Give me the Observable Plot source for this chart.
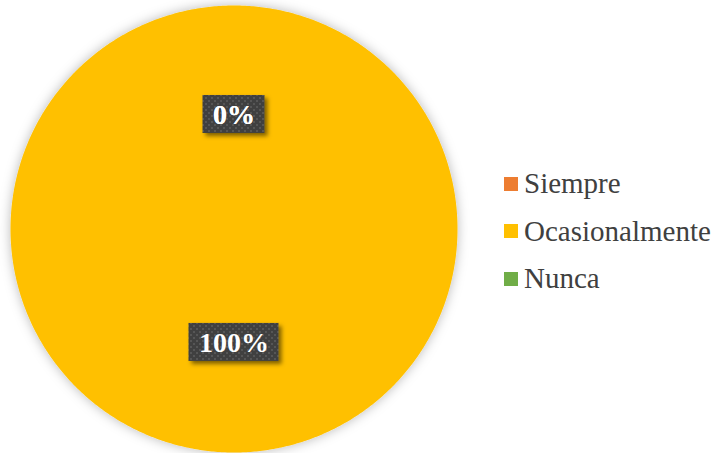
<!DOCTYPE html>
<html>
<head>
<meta charset="utf-8">
<script src="https://cdn.jsdelivr.net/npm/d3@7"></script>
<script src="https://cdn.jsdelivr.net/npm/@observablehq/plot@0.6"></script>
<style>
  html, body { margin: 0; padding: 0; background: #fff; }
  #wrap { position: relative; width: 719px; height: 453px; }
  #legend { position: absolute; left: 504px; top: 160px; }
  .lg-swatches { margin: 0 !important; min-height: 0 !important; }
  .lg-swatch { height: 47.5px !important; margin: 0 !important; padding: 0 !important; display: flex !important; align-items: center !important; }
  .lg-swatch svg { margin-right: 6px !important; }
</style>
</head>
<body>
<div id="wrap"><div id="chart"></div><div id="legend"></div></div>
<script>
const categories = ["Siempre", "Ocasionalmente", "Nunca"];
const values = [0, 100, 0];
const labels = ["0%", "100%", "0%"];
const colors = ["#ED7D31", "#FFC000", "#70AD47"];

// pie geometry from the values
const arcs = d3.pie().sort(null)(values);
const slicePts = [];
arcs.forEach((a, i) => {
  const steps = Math.max(2, Math.ceil((a.endAngle - a.startAngle) / (2 * Math.PI) * 720));
  slicePts.push({cat: categories[i], px: 0, py: 0});
  for (let k = 0; k <= steps; k++) {
    const t = a.startAngle + (a.endAngle - a.startAngle) * k / steps;
    slicePts.push({cat: categories[i], px: Math.sin(t), py: Math.cos(t)});
  }
});
const labelPts = arcs.map((a, i) => {
  const m = (a.startAngle + a.endAngle) / 2;
  return {cat: categories[i], text: labels[i], px: 0.51 * Math.sin(m), py: 0.51 * Math.cos(m)};
});

const plot = Plot.plot({
  width: 719,
  height: 453,
  margin: 0,
  x: {domain: [-1, 1], range: [10, 457], axis: null},
  y: {domain: [-1, 1], range: [452, 5], axis: null},
  color: {domain: categories, range: colors},
  style: {background: "transparent", overflow: "visible"},
  marks: [
    Plot.line(slicePts, {x: "px", y: "py", z: "cat", fill: "cat", stroke: null}),
    Plot.text(labelPts, {x: "px", y: "py", text: "text", fill: "white", fontWeight: "bold",
      fontSize: 28, fontFamily: "Liberation Serif, Times New Roman, serif"})
  ]
});
document.getElementById("chart").appendChild(plot);

// defs: shadows + dotted pattern
const ns = "http://www.w3.org/2000/svg";
const defs = document.createElementNS(ns, "defs");
defs.innerHTML = `
  <filter id="pieShadow" x="-20%" y="-20%" width="140%" height="140%">
    <feDropShadow dx="0" dy="0" stdDeviation="6" flood-color="#000" flood-opacity="0.28"/>
  </filter>
  <filter id="boxShadow" x="-30%" y="-30%" width="160%" height="160%">
    <feDropShadow dx="3" dy="3" stdDeviation="2" flood-color="#000" flood-opacity="0.5"/>
  </filter>
  <pattern id="dots" width="6" height="6" patternUnits="userSpaceOnUse">
    <rect width="6" height="6" fill="#404040"/>
    <rect x="1" y="1" width="2" height="2" fill="#565656"/>
    <rect x="4" y="4" width="2" height="2" fill="#565656"/>
  </pattern>`;
plot.insertBefore(defs, plot.firstChild);
const pieG = plot.querySelector('g[aria-label="line"]');
if (pieG) pieG.setAttribute("filter", "url(#pieShadow)");

const labG = plot.querySelector('g[aria-label="text"]');
if (labG) {
  const boxes = document.createElementNS(ns, "g");
  const seen = new Set();
  labG.querySelectorAll("text").forEach(t => {
    const b = t.getBBox();
    let tx = 0, ty = 0;
    const tr = t.getAttribute("transform");
    if (tr) {
      const m = tr.match(/translate\(([-\d.e]+)[ ,]+([-\d.e]+)\)/);
      if (m) { tx = +m[1]; ty = +m[2]; }
    }
    const key = Math.round(tx) + "," + Math.round(ty);
    const padX = 10, h = 38;
    const cy = ty + b.y + b.height / 2;
    if (seen.has(key)) return; // coincident labels share one box
    seen.add(key);
    const r = document.createElementNS(ns, "rect");
    r.setAttribute("x", tx + b.x - padX);
    r.setAttribute("y", cy - h / 2);
    r.setAttribute("width", b.width + 2 * padX);
    r.setAttribute("height", h);
    r.setAttribute("fill", "url(#dots)");
    r.setAttribute("filter", "url(#boxShadow)");
    boxes.appendChild(r);
  });
  labG.parentNode.insertBefore(boxes, labG);
}

const legend = Plot.legend({
  color: {domain: categories, range: colors, type: "ordinal"},
  legend: "swatches",
  columns: 1,
  swatchSize: 14,
  className: "lg",
  style: {fontFamily: "Liberation Serif, Times New Roman, serif", fontSize: "29px", color: "#404040"}
});
document.getElementById("legend").appendChild(legend);
</script>
</body>
</html>
